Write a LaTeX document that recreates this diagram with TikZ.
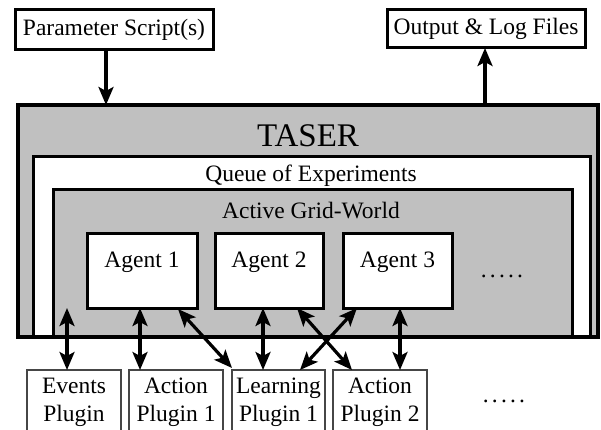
\documentclass[tikz,border=0pt]{standalone}
\usepackage{fontspec}
\setmainfont{Liberation Serif}
\usetikzlibrary{arrows.meta,calc}
\definecolor{boxgray}{RGB}{192,192,192}
\definecolor{plugline}{RGB}{70,70,70}
\begin{document}
\begin{tikzpicture}[x=1pt,y=-1pt,
  txt/.style={font=\fontsize{23.5}{28}\selectfont, inner sep=0pt},
  bigtxt/.style={font=\fontsize{33}{36}\selectfont, inner sep=0pt},
  topbox/.style={draw, line width=3pt, fill=white, inner sep=0pt, outer sep=0pt, anchor=north west,
     font=\fontsize{23.5}{28}\selectfont},
  agentbox/.style={draw, line width=3pt, fill=white, inner sep=0pt, outer sep=0pt, anchor=north west,
     minimum height=75pt},
  plugbox/.style={draw=plugline, line width=1.5pt, fill=white, inner sep=0pt, outer sep=0pt, anchor=north west,
     minimum width=94pt, minimum height=64pt, align=center, font=\fontsize{23.5}{28}\selectfont},
  tip/.tip={Stealth[length=18pt,width=15pt,inset=4pt]},
  arr/.style={line width=3.2pt, -tip},
  dbl/.style={line width=3.2pt, tip-tip},
]
\useasboundingbox (0,0) rectangle (601,430);

% top boxes
\node[topbox, minimum width=198pt, minimum height=40pt] (param) at (15,10) {Parameter Script(s)};
\node[topbox, minimum width=198pt, minimum height=38pt] (out) at (387,10) {Output \& Log Files};

% TASER nested boxes
\node[fill=boxgray, inner sep=0pt, outer sep=0pt, anchor=north west, minimum width=580pt, minimum height=232pt] (taser) at (18,105) {};
\node[draw, line width=3pt, fill=white, inner sep=0pt, outer sep=0pt, anchor=north west, minimum width=557pt, minimum height=180pt] (queue) at (33,157) {};
\node[draw, line width=3pt, fill=boxgray, inner sep=0pt, outer sep=0pt, anchor=north west, minimum width=519pt, minimum height=147pt] (grid) at (53,190) {};
\draw[line width=4.5pt] (taser.north west) rectangle (taser.south east);

\node[bigtxt] (tasertitle) at (308,136) {TASER};
\node[txt] (queuetitle) at (311,176) {Queue of Experiments};
\node[txt] (gridtitle) at (311,211) {Active Grid-World};

% agents
\node[agentbox, minimum width=110pt] (a1) at (87,233) {};
\node[agentbox, minimum width=108pt] (a2) at (215,233) {};
\node[agentbox, minimum width=109pt] (a3) at (343,233) {};
\node[txt] (a1t) at ($(a1.north)+(0,29)$) {Agent 1};
\node[txt] (a2t) at ($(a2.north)+(0,29)$) {Agent 2};
\node[txt] (a3t) at ($(a3.north)+(0,29)$) {Agent 3};
\node[txt, anchor=base] (dots1) at (502,277) {.\kern3.2pt.\kern3.2pt.\kern3.2pt.\kern3.2pt.};

% plugins
\node[plugbox] (ev) at (27,370) {Events\\Plugin};
\node[plugbox] (ap1) at (129,370) {Action\\Plugin 1};
\node[plugbox, minimum width=93pt] (lp) at (232,370) {Learning\\Plugin 1};
\node[plugbox] (ap2) at (333,370) {Action\\Plugin 2};
\node[txt, anchor=base] (dots2) at (504,402) {.\kern3.2pt.\kern3.2pt.\kern3.2pt.\kern3.2pt.};

% connectors
\draw[arr] (param.south -| 106,0) -- (taser.north -| 106,0);
\draw[arr] (taser.north -| 485,0) -- (out.south -| 485,0);

\coordinate (evtop) at (67,308);
\draw[dbl] (evtop) -- (ev.north -| evtop);
\draw[dbl] (a1.south -| 140,0) -- (ap1.north -| 140,0);
\draw[dbl] ($(a1.south east)+(-19,1)$) -- ($(lp.north west)+(0,-2)$);
\draw[dbl] (a2.south -| 263,0) -- (lp.north -| 263,0);
\draw[dbl] ($(a2.south east)+(-26,0)$) -- ($(ap2.north west)+(19,0)$);
\draw[dbl] ($(a3.south west)+(14,0)$) -- ($(lp.north east)+(-25,0)$);
\draw[dbl] (a3.south -| 400,0) -- (ap2.north -| 400,0);
\end{tikzpicture}
\end{document}
